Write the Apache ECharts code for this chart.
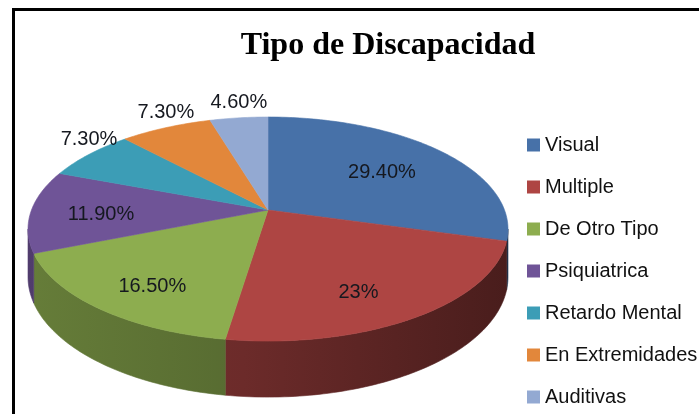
<!DOCTYPE html>
<html>
<head>
<meta charset="utf-8">
<script src="https://cdn.jsdelivr.net/npm/echarts@6/dist/echarts.min.js"></script>
<style>
  html, body { margin: 0; padding: 0; background: #fff; }
  #chart { width: 699px; height: 414px; }
</style>
</head>
<body>
<div id="chart"></div>
<script>
// Tipo de Discapacidad — shares per category (percent)
const categories = ['Visual', 'Multiple', 'De Otro Tipo', 'Psiquiatrica', 'Retardo Mental', 'En Extremidades', 'Auditivas'];
const shares = [29.4, 23, 16.5, 11.9, 7.3, 7.3, 4.6];
const colors = ['#4771a8', '#ae4543', '#8dad4f', '#6f5497', '#3c9db6', '#e2873b', '#93a9d2'];

// Perspective pie geometry: centre of the top face, radii, perspective factor, thickness
const PIE = { cx: 268, cy: 210, rx: 236.5, ry: 108.8, k: 0.17, depth: 46.5 };
const TOTAL = shares.reduce((a, b) => a + b, 0);

function project(phi, r) {
  // phi: angle clockwise from 12 o'clock; r: fraction of radius
  const u = r * Math.sin(phi);
  const v = -r * Math.cos(phi);
  const s = 1 / (1 - PIE.k * v);
  return { x: PIE.cx + PIE.rx * u * s, y: PIE.cy + PIE.ry * v * s, s: s, v: v };
}

function shade(hex, f) {
  const n = parseInt(hex.slice(1), 16);
  const r = Math.round(((n >> 16) & 255) * f);
  const g = Math.round(((n >> 8) & 255) * f);
  const b = Math.round((n & 255) * f);
  return 'rgb(' + r + ',' + g + ',' + b + ')';
}

function formatShare(v) {
  return Number.isInteger(v) ? v + '%' : v.toFixed(2) + '%';
}

// the side wall is visible between the two silhouette points of the rim
const SIDE_FROM = Math.acos(-PIE.k);
const SIDE_TO = 2 * Math.PI - SIDE_FROM;

function arcPoints(a, b, depthShift) {
  const pts = [];
  const steps = Math.max(2, Math.ceil((b - a) / (Math.PI / 180)));
  for (let j = 0; j <= steps; j++) {
    const p = project(a + (b - a) * j / steps, 1);
    pts.push([p.x, p.y + (depthShift ? PIE.depth * p.s : 0)]);
  }
  return pts;
}

function renderSlice(params, api) {
  const i = params.seriesIndex;
  const value = api.value(0);
  let before = 0;
  for (let j = 0; j < i; j++) before += shares[j];
  const a0 = before / TOTAL * 2 * Math.PI;
  const a1 = (before + value) / TOTAL * 2 * Math.PI;
  const base = colors[i];
  const children = [];

  // front wall
  const s0 = Math.max(a0, SIDE_FROM), s1 = Math.min(a1, SIDE_TO);
  if (s1 > s0) {
    const top = arcPoints(s0, s1, false);
    const bottom = arcPoints(s0, s1, true).reverse();
    const wallFill = {
      type: 'linear', global: true,
      x: PIE.cx - PIE.rx * 1.02, y: 0, x2: PIE.cx + PIE.rx * 1.02, y2: 0,
      colorStops: [
        { offset: 0, color: shade(base, 0.72) },
        { offset: 0.45, color: shade(base, 0.62) },
        { offset: 1, color: shade(base, 0.42) }
      ]
    };
    children.push({
      type: 'polygon',
      shape: { points: top.concat(bottom) },
      style: { fill: wallFill, stroke: wallFill, lineWidth: 0.6 }
    });
  }

  // top face
  const c = project(0, 0);
  children.push({
    type: 'polygon',
    shape: { points: [[c.x, c.y]].concat(arcPoints(a0, a1, false)) },
    style: { fill: base, stroke: base, lineWidth: 0.6 }
  });

  // value label: large slices inside, small ones just above the rim
  const mid = (a0 + a1) / 2;
  const text = formatShare(value);
  if (value >= 10) {
    const p = project(mid, 0.68);
    children.push({
      type: 'text',
      style: {
        x: p.x - 6, y: p.y + 4 + PIE.depth * 0.35 * Math.max(0, p.v),
        text: text, fill: '#15181f', fontSize: 20, fontFamily: 'Liberation Sans',
        align: 'center', verticalAlign: 'middle'
      }
    });
  } else {
    const p = project(mid, 1);
    children.push({
      type: 'text',
      style: {
        x: p.x, y: p.y - 5,
        text: text, fill: '#15181f', fontSize: 20, fontFamily: 'Liberation Sans',
        align: 'center', verticalAlign: 'bottom'
      }
    });
  }
  return { type: 'group', children: children };
}

const chart = echarts.init(document.getElementById('chart'), null, { renderer: 'canvas' });
chart.setOption({
  animation: false,
  backgroundColor: '#ffffff',
  title: {
    text: 'Tipo de Discapacidad',
    left: 383, top: 25, textAlign: 'center',
    textStyle: { fontFamily: 'Liberation Serif', fontWeight: 'bold', fontSize: 32, color: '#000' }
  },
  legend: {
    orient: 'vertical', left: 527, top: 135, padding: 0,
    itemWidth: 13, itemHeight: 13, itemGap: 22, icon: 'rect', selectedMode: false,
    textStyle: { fontSize: 20, lineHeight: 20, fontFamily: 'Liberation Sans', color: '#111' }
  },
  graphic: [{
    type: 'rect', z: 100,
    shape: { x: 13.5, y: 9.5, width: 900, height: 600 },
    style: { fill: 'none', stroke: '#000', lineWidth: 3 }
  }],
  series: categories.map((name, i) => ({
    type: 'custom',
    name: name,
    coordinateSystem: 'none',
    itemStyle: { color: colors[i] },
    data: [shares[i]],
    renderItem: renderSlice
  }))
});
</script>
</body>
</html>
